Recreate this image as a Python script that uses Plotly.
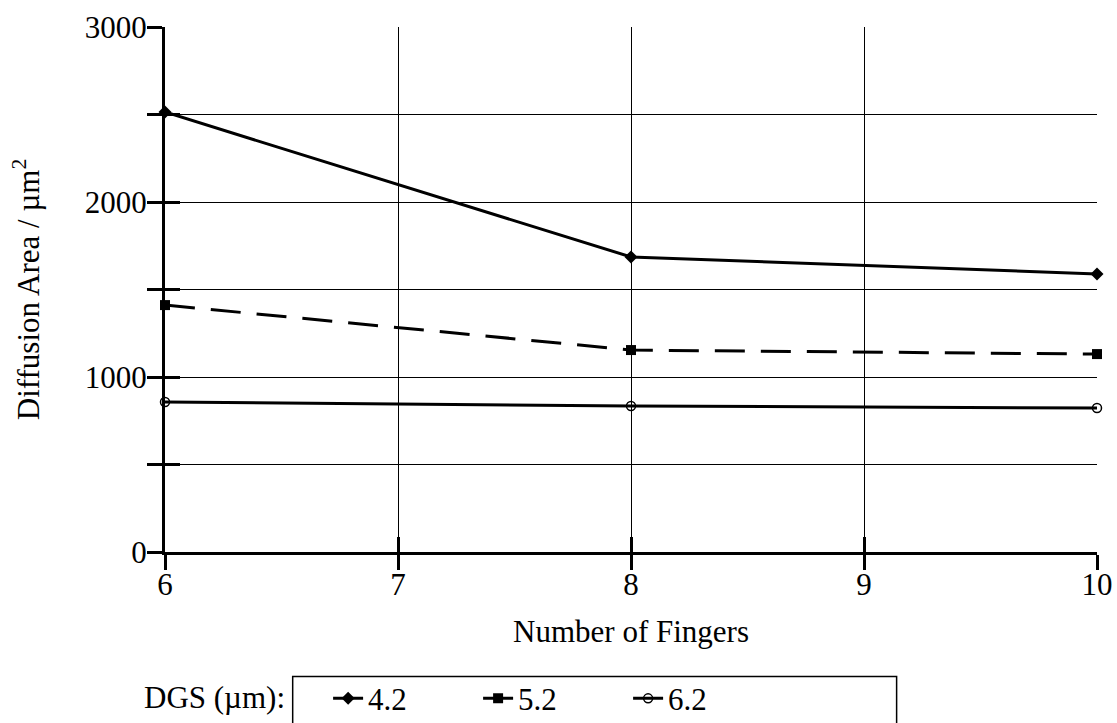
import plotly.graph_objects as go

fingers = [6, 8, 10]
dgs_42 = [2514, 1686, 1589]
dgs_52 = [1411, 1154, 1131]
dgs_62 = [857, 834, 823]
y_ticks = [0, 1000, 2000, 3000]
x_ticks = [6, 7, 8, 9, 10]

FONT = "Liberation Serif, Times New Roman, serif"
FS = 31

fig = go.Figure()
fig.add_trace(go.Scatter(x=fingers, y=dgs_42, name="4.2", mode="lines+markers",
                         line=dict(color="black", width=3),
                         marker=dict(symbol="diamond", size=10, color="black"),
                         cliponaxis=False))
fig.add_trace(go.Scatter(x=fingers, y=dgs_52, name="5.2", mode="lines+markers",
                         line=dict(color="black", width=3, dash="30px,16px"),
                         marker=dict(symbol="square", size=10, color="black"),
                         cliponaxis=False))
fig.add_trace(go.Scatter(x=fingers, y=dgs_62, name="6.2", mode="lines+markers",
                         line=dict(color="black", width=3),
                         marker=dict(symbol="circle-open", size=9, color="black",
                                     line=dict(width=1.5)),
                         cliponaxis=False))
# invisible trace to activate the overlay axes for the crossing ticks
fig.add_trace(go.Scatter(x=[fingers[0]], y=[y_ticks[0]], xaxis="x2", yaxis="y2",
                         mode="markers", marker=dict(opacity=0), showlegend=False,
                         hoverinfo="skip"))

axis_common = dict(showline=True, linecolor="black", linewidth=3,
                   ticks="outside", ticklen=15, tickwidth=3, tickcolor="black",
                   showgrid=True, gridcolor="black", gridwidth=1, zeroline=False,
                   automargin=False,
                   tickfont=dict(family=FONT, size=FS, color="black"))

fig.update_layout(
    width=1117, height=723,
    margin=dict(l=165, r=20, t=27, b=171, autoexpand=False),
    paper_bgcolor="white", plot_bgcolor="white",
    font=dict(family=FONT, size=FS, color="black"),
    xaxis=dict(range=[6, 10], tickvals=x_ticks, ticklabelstandoff=-12,
               title=dict(text="Number of Fingers", font=dict(family=FONT, size=FS), standoff=20),
               **axis_common),
    yaxis=dict(range=[0, 3000], tickvals=y_ticks, ticklabelstandoff=-6,
               minor=dict(dtick=500, ticks="outside", ticklen=15, tickwidth=3,
                          tickcolor="black", showgrid=True, gridcolor="black", gridwidth=1),
               title=dict(text="Diffusion Area / µm<sup>2</sup>", font=dict(family=FONT, size=FS), standoff=36),
               **axis_common),
    xaxis2=dict(overlaying="x", range=[6, 10], tickvals=x_ticks, ticks="inside", ticklen=15,
                tickwidth=3, tickcolor="black", showticklabels=False, showgrid=False,
                zeroline=False, showline=False, side="bottom", anchor="y2"),
    yaxis2=dict(overlaying="y", range=[0, 3000], dtick=500, ticks="inside", ticklen=15,
                tickwidth=3, tickcolor="black", showticklabels=False, showgrid=False,
                zeroline=False, showline=False, side="left", anchor="x2"),
    legend=dict(orientation="h", x=0.175, y=-0.228, xanchor="left", yanchor="top",
                borderwidth=0, bgcolor="rgba(0,0,0,0)",
                font=dict(family=FONT, size=FS), entrywidth=105,
                tracegroupgap=0),
    showlegend=True,
    shapes=[dict(type="rect", xref="paper", yref="paper", x0=0.137, x1=0.785,
                 y0=-0.237, y1=-0.36, line=dict(color="black", width=1.5))],
    annotations=[dict(text="DGS (µm):", xref="paper", yref="paper", x=0.131, y=-0.278,
                      xanchor="right", yanchor="middle", showarrow=False,
                      font=dict(family=FONT, size=FS))],
)

fig.write_html("out.html", post_script="document.body.style.margin='0px';",
               config={"displayModeBar": False})
